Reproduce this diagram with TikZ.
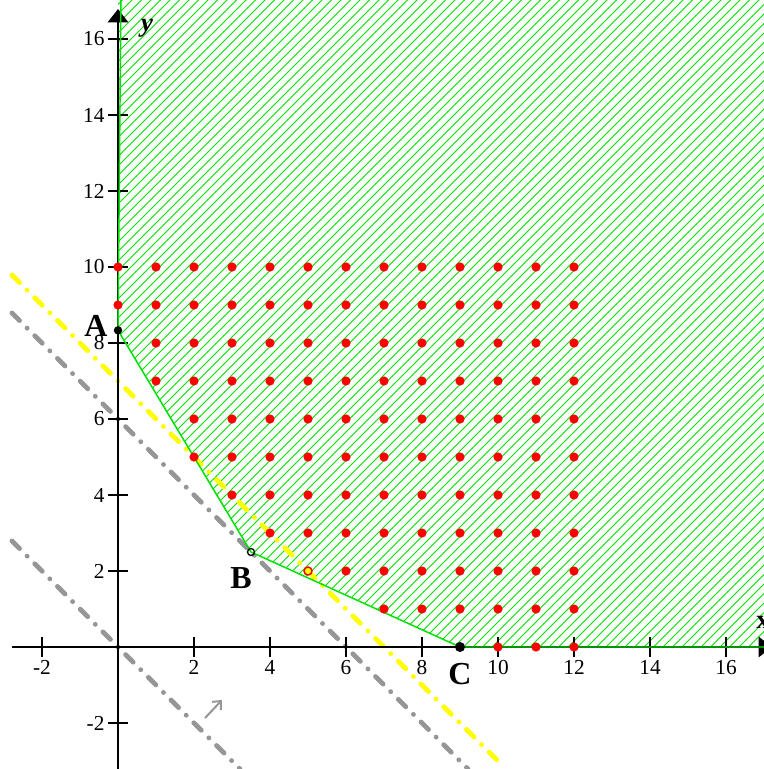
\documentclass[tikz,border=0pt]{standalone}
\usepackage{fontspec}
\setmainfont{Liberation Serif}
\usetikzlibrary{arrows.meta}
\definecolor{regiongreen}{RGB}{0,225,0}
\definecolor{levelgray}{RGB}{150,150,150}
\definecolor{levelyellow}{RGB}{255,255,0}
\tikzset{every picture/.style={line width=0.75pt}}
\tikzset{
  level/.style={line width=3.6pt, line cap=round, dash pattern=on 8pt off 8pt on 0.1pt off 8pt},
  ticklabel/.style={font=\fontsize{16}{16}\selectfont, inner sep=0.75pt},
  pointlabel/.style={font=\fontsize{24}{24}\selectfont\bfseries, inner sep=0.75pt},
}

\begin{document}
\begin{tikzpicture}[x=0.75pt,y=0.75pt,yscale=-1,xscale=1]
\useasboundingbox (0,0) rectangle (764,769);
\clip (0,0) rectangle (764,769);

% corner points of the region
\coordinate (A) at (118,330.33);
\coordinate (B) at (251,552);
\coordinate (C) at (460,647);
\coordinate (opt) at (308,571);

%Shape: feasible region, hatched
\begin{scope}
\clip (118,-10) -- (A) -- (B) -- (C) -- (780,647) -- (780,-10) -- cycle ;
\foreach \s in {-800,-790.5,...,780}
  \draw [regiongreen, line width=0.7pt] (\s,780) -- ({\s+790},-10) ;
\end{scope}

%Straight Lines: level lines
\draw [levelgray, level] (12,541) -- (240,769) ;
\draw [levelgray, level] (12,313) -- (468,769) ;
\draw [levelyellow, level] (12,275) -- (503,766) ;

%Axes
\draw [line width=2.2pt, -{Triangle[width=15pt,length=10pt]}] (12,647) -- (772,647) ;
\draw [line width=2.2pt, -{Triangle[width=15pt,length=10pt]}] (118,775) -- (118,9) ;

% ticks and tick labels
\foreach \k in {-2,2,4,...,16} {
  \draw [line width=1.4pt] ({118+38*\k},637) -- ({118+38*\k},657) ;
  \draw ({118+38*\k},659) node [anchor=north, ticklabel] (xt\k) {\k};
}
\foreach \k in {-2,2,4,...,16} {
  \draw [line width=1.4pt] (108,{647-38*\k}) -- (128,{647-38*\k}) ;
  \draw (106,{647-38*\k}) node [anchor=east, ticklabel] (yt\k) {\k};
}

%Straight Lines: boundary of the region
\draw [regiongreen, line width=1.1pt] (121,-10) -- (A) -- (B) -- (C) -- (780,647) ;

% integer points
\foreach \y/\xs in {10/0,9/0,8/1,7/1,6/2,5/2,4/3,3/4,2/6,1/7,0/10}
  \foreach \x in {\xs,...,12}
    \fill [red] ({118+38*\x},{647-38*\y}) circle [radius=4.6] ;

\draw [red, fill=levelyellow, line width=1.1pt] (opt) circle [radius=4] ;
\fill (A) circle [radius=4.2] ;
\draw [line width=1pt] (B) circle [radius=3.5] ;
\fill (C) circle [radius=5] ;

% gradient arrow
\coordinate (g0) at (205,718) ;
\coordinate (g1) at (222,700) ;
\draw [levelgray, line width=1.5pt, -{Straight Barb[length=5pt,width=9pt]}] (g0) -- (g1) ;

% Text Node
\draw (96,326) node [pointlabel] (lblA) {A};
% Text Node
\draw (241,578) node [pointlabel] (lblB) {B};
% Text Node
\draw (460,674) node [pointlabel] (lblC) {C};
% Text Node
\draw (147,28) node [font=\fontsize{20}{20}\selectfont\bfseries\itshape, inner sep=0.75pt] (lbly) {y};
% Text Node
\draw (763,622) node [font=\fontsize{20}{20}\selectfont\bfseries, inner sep=0.75pt] (lblx) {x};

\end{tikzpicture}
\end{document}
